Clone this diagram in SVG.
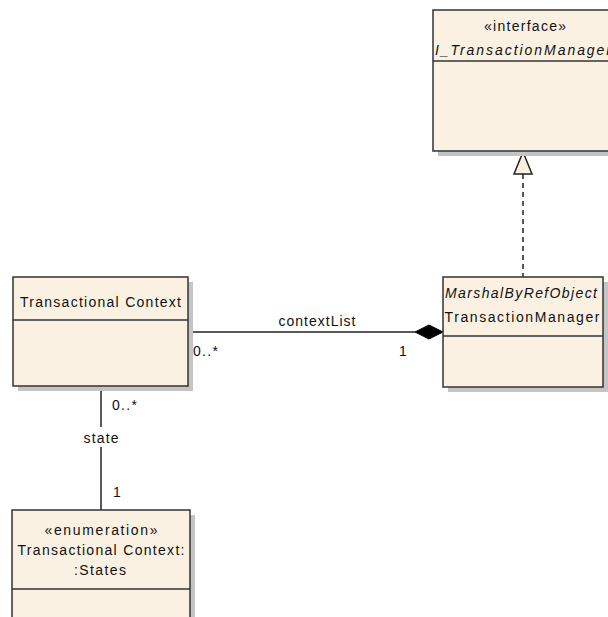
<svg xmlns="http://www.w3.org/2000/svg" width="608" height="617" viewBox="0 0 608 617">
<defs>
<style>
.box{fill:#FBF1E3;stroke:#333;stroke-width:1.5}
.shadow{fill:#C4C4C4}
.div{stroke:#333;stroke-width:1.5}
.t{font-family:"Liberation Sans",Arial,sans-serif;font-size:14px;fill:#111;text-anchor:middle}
.it{font-style:italic}
.lbl{font-family:"Liberation Sans",Arial,sans-serif;font-size:14px;fill:#111}
.conn{stroke:#222;stroke-width:1.5;fill:none}
</style>
</defs>
<rect width="608" height="617" fill="#FFFFFF"/>
<g id="connectors">
<line class="conn" x1="523" y1="174" x2="523" y2="277" stroke-dasharray="5,4"/>
<polygon points="523,152 514,174 532,174" fill="#FBF1E3" stroke="#222" stroke-width="1.5"/>
<line class="conn" x1="188" y1="332" x2="415" y2="332"/>
<polygon points="415,332 429,325 443,332 429,339" fill="#000" stroke="#000"/>
<line class="conn" x1="101" y1="386" x2="101" y2="427"/>
<line class="conn" x1="101" y1="447" x2="101" y2="510"/>
<text class="t" x="317" y="326" textLength="77" lengthAdjust="spacing">contextList</text>
<text class="lbl" x="193" y="356" textLength="25" lengthAdjust="spacing">0..*</text>
<text class="lbl" x="399" y="356">1</text>
<text class="lbl" x="112" y="410" textLength="25" lengthAdjust="spacing">0..*</text>
<text class="t" x="101" y="443" textLength="35" lengthAdjust="spacing">state</text>
<text class="lbl" x="113" y="497">1</text>
</g>
<g id="I_TransactionManager">
<rect class="shadow" x="438" y="15" width="180" height="141"/>
<rect class="box" x="433" y="10" width="180" height="141"/>
<line class="div" x1="433" y1="61" x2="613" y2="61"/>
<text class="t" x="525" y="31" textLength="82" lengthAdjust="spacing">«interface»</text>
<text class="t it" x="523" y="55" textLength="176" lengthAdjust="spacing">I_TransactionManager</text>
</g>
<g id="TransactionManager">
<rect class="shadow" x="448" y="282" width="160" height="110"/>
<rect class="box" x="443" y="277" width="160" height="110"/>
<line class="div" x1="443" y1="336" x2="603" y2="336"/>
<text class="t it" x="521" y="298" textLength="152" lengthAdjust="spacing">MarshalByRefObject</text>
<text class="t" x="522" y="322" textLength="155" lengthAdjust="spacing">TransactionManager</text>
</g>
<g id="TransactionalContext">
<rect class="shadow" x="18" y="282" width="175" height="109"/>
<rect class="box" x="13" y="277" width="175" height="109"/>
<line class="div" x1="13" y1="320" x2="188" y2="320"/>
<text class="t" x="100.5" y="307" textLength="161" lengthAdjust="spacing">Transactional Context</text>
</g>
<g id="TransactionalContextStates">
<rect class="shadow" x="17" y="515" width="178" height="120"/>
<rect class="box" x="12" y="510" width="178" height="120"/>
<line class="div" x1="12" y1="589" x2="190" y2="589"/>
<text class="t" x="101" y="535" textLength="113" lengthAdjust="spacing">«enumeration»</text>
<text class="t" x="101" y="555" textLength="167" lengthAdjust="spacing">Transactional Context:</text>
<text class="t" x="100" y="575" textLength="52" lengthAdjust="spacing">:States</text>
</g>
</svg>
